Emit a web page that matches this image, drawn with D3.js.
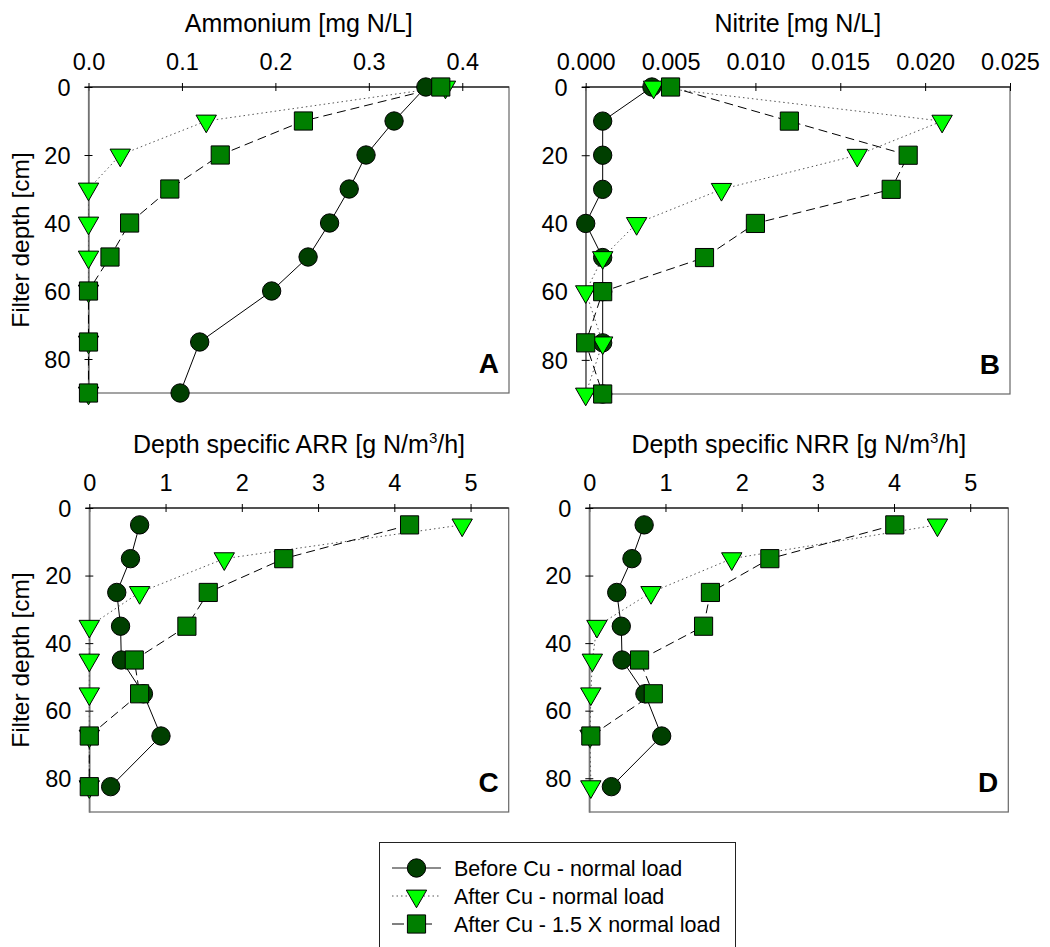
<!DOCTYPE html>
<html lang="en">
<head>
<meta charset="utf-8">
<script src="https://d3js.org/d3.v7.min.js"></script>
<style>
  body { margin: 0; background: #fff; }
  text { font-family: "Liberation Sans", Arial, sans-serif; fill: #000; }
</style>
</head>
<body>
<script>
// depths of the sampling points (cm)
const depthsAB = [0, 10, 20, 30, 40, 50, 60, 75, 90];
const depthsCD = [5, 15, 25, 35, 45, 55, 67.5, 82.5];

const seriesNames = ["Before Cu - normal load", "After Cu - normal load", "After Cu - 1.5 X normal load"];

// A - ammonium
const ammBefore = [0.361, 0.327, 0.297, 0.279, 0.258, 0.235, 0.196, 0.119, 0.098];
const ammAfter  = [0.382, 0.126, 0.034, 0, 0, 0, 0, 0, 0];
const ammHigh   = [0.377, 0.230, 0.141, 0.087, 0.044, 0.023, 0, 0, 0];

// B - nitrite
const nitBefore = [0.0039, 0.001, 0.001, 0.001, 0.0, 0.001, 0.001, 0.001, 0.001];
const nitAfter  = [0.004, 0.021, 0.016, 0.008, 0.003, 0.001, 0.0, 0.001, 0.0];
const nitHigh   = [0.005, 0.012, 0.019, 0.018, 0.010, 0.007, 0.001, 0.0, 0.001];

// C - depth specific ARR
const arrBefore = [0.66, 0.54, 0.36, 0.41, 0.42, 0.71, 0.94, 0.28];
const arrAfter  = [4.89, 1.77, 0.66, 0, 0, 0, 0, 0];
const arrHigh   = [4.20, 2.55, 1.56, 1.28, 0.59, 0.66, 0, 0];

// D - depth specific NRR
const nrrBefore = [0.72, 0.56, 0.36, 0.42, 0.43, 0.73, 0.95, 0.29];
const nrrAfter  = [4.57, 1.87, 0.81, 0.10, 0.04, 0.02, 0.01, 0.02];
const nrrHigh   = [4.01, 2.37, 1.59, 1.50, 0.66, 0.84, 0.02, null];

const xTicksA = [0, 0.1, 0.2, 0.3, 0.4];
const xTicksB = [0, 0.005, 0.010, 0.015, 0.020, 0.025];
const xTicksCD = [0, 1, 2, 3, 4, 5];
const yTicks = [0, 20, 40, 60, 80];

const width = 1050, height = 947;

const svg = d3.select("body").append("svg")
  .attr("width", width)
  .attr("height", height);

// series styling
const styles = [
  { fill: "#003f00", dash: null, stroke: "#000", shape: "circle" },
  { fill: "#00ff00", dash: "1.5,3", stroke: "#555", shape: "triangle" },
  { fill: "#007f00", dash: "9,5", stroke: "#000", shape: "square" }
];

function symbolPath(shape) {
  if (shape == "circle") return d3.symbol().type(d3.symbolCircle).size(265)();
  if (shape == "square") return d3.symbol().type(d3.symbolSquare).size(330)();
  return d3.symbol().type(d3.symbolTriangle).size(180)();
}

const panels = [
  { title: "Ammonium [mg N/L]", letter: "A", x0: 88.5, x1: 509, y0: 87, y1: 393,
    xmax: 0.45, xTicks: xTicksA, fmt: d3.format(".1f"), depths: depthsAB,
    series: [ammBefore, ammAfter, ammHigh], ylabel: true },
  { title: "Nitrite [mg N/L]", letter: "B", x0: 585.7, x1: 1010, y0: 87, y1: 394,
    xmax: 0.025, xTicks: xTicksB, fmt: d3.format(".3f"), depths: depthsAB,
    series: [nitBefore, nitAfter, nitHigh], ylabel: false },
  { title: "Depth specific ARR [g N/m", sup: "3", tail: "/h]", letter: "C", x0: 89.3, x1: 508.7, y0: 508, y1: 812,
    xmax: 5.5, xTicks: xTicksCD, fmt: d3.format("d"), depths: depthsCD,
    series: [arrBefore, arrAfter, arrHigh], ylabel: true },
  { title: "Depth specific NRR [g N/m", sup: "3", tail: "/h]", letter: "D", x0: 589.3, x1: 1008.3, y0: 508, y1: 812,
    xmax: 5.5, xTicks: xTicksCD, fmt: d3.format("d"), depths: depthsCD,
    series: [nrrBefore, nrrAfter, nrrHigh], ylabel: false }
];

panels.forEach(function(p) {
  const x = d3.scaleLinear().domain([0, p.xmax]).range([p.x0, p.x1]);
  const y = d3.scaleLinear().domain([0, 90]).range([p.y0, p.y1]);

  const g = svg.append("g");

  // frame
  g.append("rect")
    .attr("x", p.x0).attr("y", p.y0)
    .attr("width", p.x1 - p.x0).attr("height", p.y1 - p.y0)
    .attr("fill", "none").attr("stroke", "#666").attr("stroke-width", 1.2);

  // top axis
  const xAxis = d3.axisTop(x).tickValues(p.xTicks).tickFormat(p.fmt).tickSize(4).tickSizeOuter(0);
  const gx = g.append("g").attr("transform", "translate(0," + p.y0 + ")").call(xAxis);
  gx.select(".domain").attr("stroke", "#000").attr("d", "M" + (p.x0 - 4) + ",0H" + p.x1);
  gx.selectAll(".tick line").attr("y1", 4).attr("y2", -4);
  gx.selectAll("text").attr("y", -17).attr("dy", 0)
    .style("font-size", "23.5px").style("font-family", "'Liberation Sans', Arial, sans-serif");

  // left axis
  const yAxis = d3.axisLeft(y).tickValues(yTicks).tickSize(4).tickSizeOuter(0);
  const gy = g.append("g").attr("transform", "translate(" + p.x0 + ",0)").call(yAxis);
  gy.select(".domain").attr("stroke", "#777").attr("stroke-width", 1.5);
  gy.selectAll(".tick line").attr("x1", 4).attr("x2", -4);
  gy.selectAll("text").attr("x", -18).attr("dy", "0.35em")
    .style("font-size", "23.5px").style("font-family", "'Liberation Sans', Arial, sans-serif");

  // title
  const t = g.append("text")
    .attr("x", (p.x0 + p.x1) / 2).attr("y", p.y0 - 55)
    .attr("text-anchor", "middle").style("font-size", "25px")
    .text(p.title);
  if (p.sup) {
    t.append("tspan").attr("dy", -10).style("font-size", "15px").text(p.sup);
    t.append("tspan").attr("dy", 10).text(p.tail);
  }

  if (p.ylabel) {
    g.append("text")
      .attr("transform", "translate(29," + (p.y0 + p.y1) / 2 + ") rotate(-90)")
      .attr("text-anchor", "middle").style("font-size", "24.5px")
      .text("Filter depth [cm]");
  }

  // series lines
  p.series.forEach(function(vals, si) {
    const pts = vals.map(function(v, i) { return { v: v, d: p.depths[i] }; });
    const line = d3.line()
      .defined(function(d) { return d.v != null; })
      .x(function(d) { return x(d.v); })
      .y(function(d) { return y(d.d); });
    g.append("path")
      .attr("d", line(pts))
      .attr("fill", "none")
      .attr("stroke", styles[si].stroke)
      .attr("stroke-width", 1)
      .attr("stroke-dasharray", styles[si].dash);
  });

  // markers
  p.series.forEach(function(vals, si) {
    const pts = vals.map(function(v, i) { return { v: v, d: p.depths[i] }; })
      .filter(function(d) { return d.v != null; });
    const s = styles[si];
    g.selectAll(".m" + si)
      .data(pts)
      .enter()
      .append("path")
      .attr("d", symbolPath(s.shape))
      .attr("transform", function(d) {
        return "translate(" + x(d.v) + "," + y(d.d) + ")" + (s.shape == "triangle" ? " rotate(180)" : "");
      })
      .attr("fill", s.fill)
      .attr("stroke", "#000")
      .attr("stroke-width", 1);
  });

  // panel letter
  g.append("text")
    .attr("x", p.x1 - 10).attr("y", p.y1 - 20)
    .attr("text-anchor", "end")
    .style("font-size", "28px").style("font-weight", "bold")
    .text(p.letter);
});

// legend
const legend = svg.append("g");
legend.append("rect")
  .attr("x", 379.5).attr("y", 842.5).attr("width", 356).attr("height", 120)
  .attr("fill", "#fff").attr("stroke", "#222").attr("stroke-width", 1);

seriesNames.forEach(function(name, i) {
  const cy = 868 + i * 28;
  const s = styles[i];
  legend.append("line")
    .attr("x1", 392).attr("x2", 441).attr("y1", cy).attr("y2", cy)
    .attr("stroke", i == 0 ? "#666" : s.stroke).attr("stroke-width", i == 0 ? 1.5 : 1)
    .attr("stroke-dasharray", i == 1 ? "1.5,3" : (i == 2 ? "12,16" : null));
  legend.append("path")
    .attr("d", symbolPath(s.shape))
    .attr("transform", "translate(416.5," + cy + ")" + (s.shape == "triangle" ? " rotate(180)" : ""))
    .attr("fill", s.fill).attr("stroke", "#000").attr("stroke-width", 1);
  legend.append("text")
    .attr("x", 454).attr("y", cy).attr("dy", "0.36em")
    .style("font-size", "21.5px")
    .text(name);
});
</script>
</body>
</html>
